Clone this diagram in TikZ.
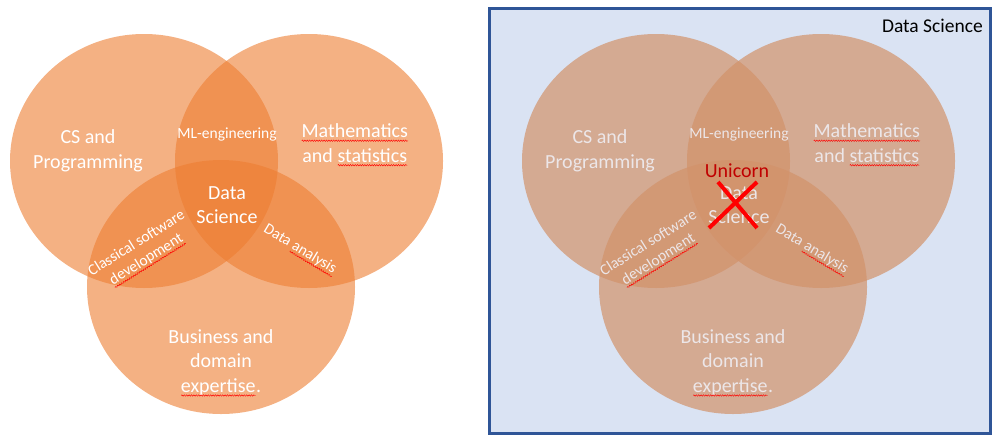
\documentclass[tikz,border=0pt]{standalone}
\usepackage{fontspec}
\setmainfont{Carlito}
\usetikzlibrary{positioning, decorations.pathmorphing}
\definecolor{vennorange}{HTML}{ED7D31}
\definecolor{venntan}{RGB}{210,146,106}
\definecolor{panelblue}{HTML}{DAE3F3}
\definecolor{panelframe}{HTML}{2F5597}
\definecolor{unicornred}{HTML}{C00000}
\definecolor{fadedtext}{RGB}{236,230,232}
% red spell-check squiggle under a word
\newlength{\spellwd}
\newcommand{\spellmark}[1]{\settowidth{\spellwd}{#1}\rlap{#1}\tikz[baseline=0pt, x=1pt, y=1pt]\draw[red, line width=0.45pt, decorate, decoration={snake, amplitude=0.7pt, segment length=2.4pt}] (0,-3) -- (\spellwd,-3);}

\begin{document}
\begin{tikzpicture}[
  x=1pt, y=-1pt,
  setleft/.style={fill=vennorange, fill opacity=0.6},
  setright/.style={fill=venntan, fill opacity=0.7},
  biglabel/.style={align=center, font=\fontsize{20}{24.5}\selectfont, inner sep=0pt},
  smalllabel/.style={align=center, font=\fontsize{15.5}{19}\selectfont, inner sep=0pt},
  panel/.style={draw=panelframe, line width=3pt, fill=panelblue, minimum width=501pt, minimum height=425pt, inner sep=0pt},
  cross/.style={draw=red, line width=4pt}
]
\useasboundingbox (0,0) rectangle (1000,442);

% left diagram
\fill[setleft] (144,161) ellipse [x radius=134, y radius=127];
\fill[setleft] (309,161) ellipse [x radius=134, y radius=127];
\fill[setleft] (221,287) ellipse [x radius=134, y radius=127];

\begin{scope}[text=white]
\node[biglabel] (csleft) at (88,151) {CS and\\Programming};
\node[smalllabel] (mlleft) at (227,134) {ML-engineering};
\node[biglabel] (mathleft) at (355,145) {\spellmark{Mathematics}\\and \spellmark{statistics}};
\node[biglabel] (dsleft) at (227,205) {Data\\Science};
\node[smalllabel, rotate=32] (softleft) at (142,252) {Classical software\\\spellmark{development}};
\node[smalllabel, rotate=-31] (analeft) at (300,250) {Data \spellmark{analysis}};
\node[biglabel] (bizleft) at (221,363) {Business and\\domain\\\spellmark{expertise}.};
\end{scope}

% right diagram
\node[panel] (dspanel) at (740,221) {};
\node[font=\fontsize{19.5}{23}\selectfont, anchor=east, inner sep=0pt] (dstitle) at (983,26) {Data Science};

\fill[setright] (656,161) ellipse [x radius=134, y radius=127];
\fill[setright] (821,161) ellipse [x radius=134, y radius=127];
\fill[setright] (733,287) ellipse [x radius=134, y radius=127];

\begin{scope}[text=fadedtext]
\node[biglabel] (csright) at (600,151) {CS and\\Programming};
\node[smalllabel] (mlright) at (739,134) {ML-engineering};
\node[biglabel] (mathright) at (867,145) {\spellmark{Mathematics}\\and \spellmark{statistics}};
\node[biglabel] (dsright) at (739,205) {Data\\Science};
\node[smalllabel, rotate=32] (softright) at (654,252) {Classical software\\\spellmark{development}};
\node[smalllabel, rotate=-31] (anaright) at (812,250) {Data \spellmark{analysis}};
\node[biglabel] (bizright) at (733,363) {Business and\\domain\\\spellmark{expertise}.};
\end{scope}

\node[biglabel, text=unicornred] (unicorn) at (737,171) {Unicorn};

\coordinate (xa) at (718,182);
\coordinate (xb) at (757,228);
\coordinate (xc) at (757,182);
\coordinate (xd) at (709,228);
\draw[cross] (xa) -- (xb);
\draw[cross] (xc) -- (xd);
\end{tikzpicture}
\end{document}
